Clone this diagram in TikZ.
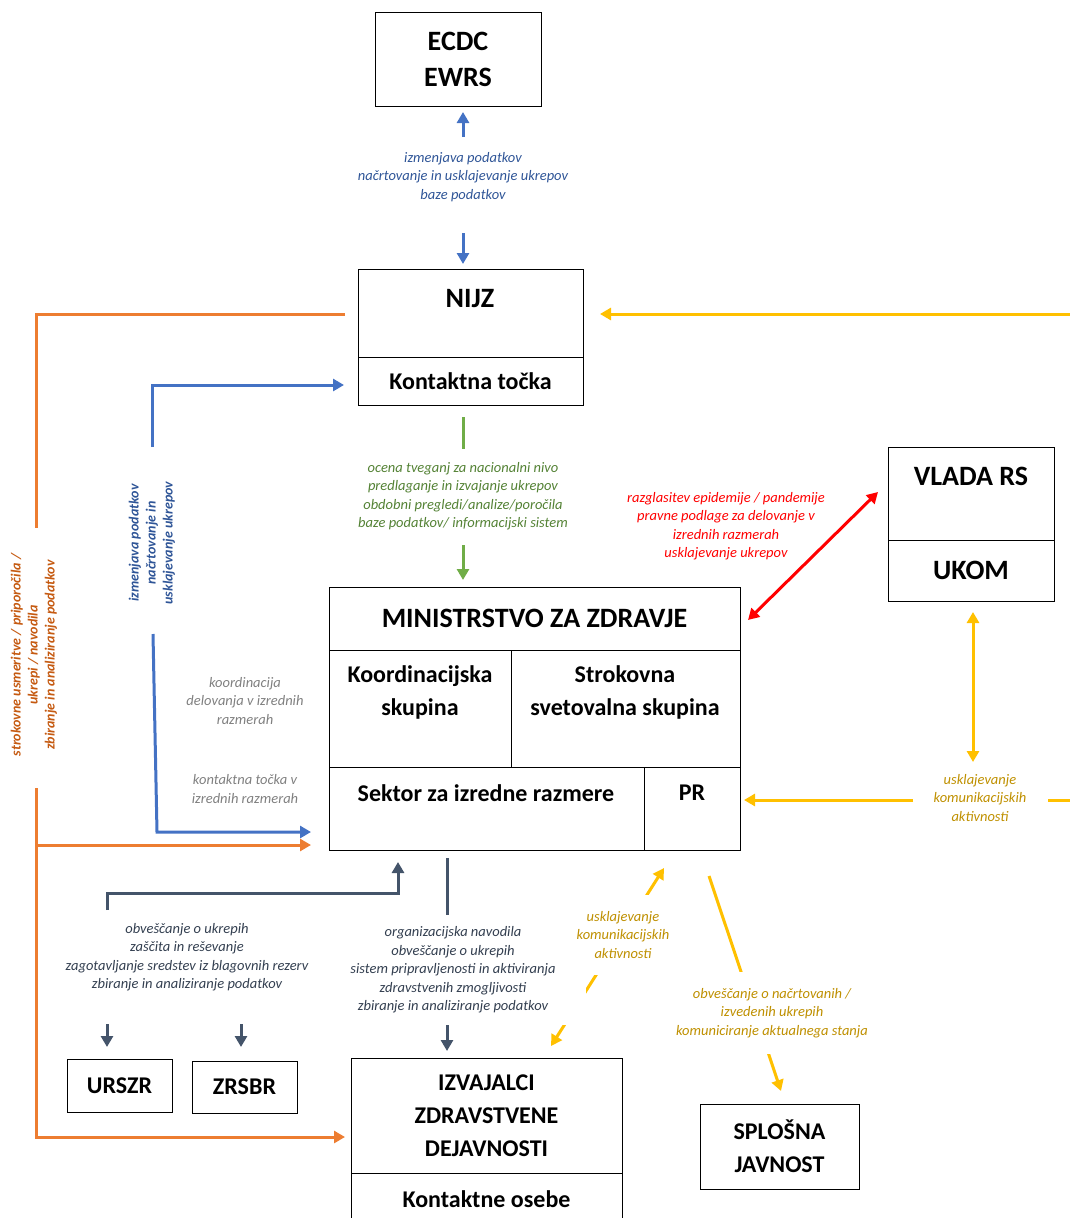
\documentclass[tikz,border=0pt]{standalone}
\usepackage{fontspec}
\setmainfont{Carlito}
\usetikzlibrary{calc,arrows.meta}

\definecolor{cblue}{HTML}{4472C4}
\definecolor{tblue}{HTML}{2F5597}
\definecolor{corange}{HTML}{ED7D31}
\definecolor{torange}{HTML}{C55A11}
\definecolor{cyellow}{HTML}{FFC000}
\definecolor{tyellow}{HTML}{BF9000}
\definecolor{cgreen}{HTML}{70AD47}
\definecolor{tgreen}{HTML}{548235}
\definecolor{cred}{HTML}{FF0000}
\definecolor{cslate}{HTML}{44546A}
\definecolor{tslate}{HTML}{333F50}
\definecolor{tgray}{HTML}{808080}

\tikzset{
  box/.style={draw,line width=1pt,inner sep=0pt,outer sep=0pt,anchor=north west},
  big/.style={font=\bfseries\fontsize{28}{36}\selectfont,align=center},
  mid/.style={font=\bfseries\fontsize{24}{33}\selectfont,align=center},
  lbl/.style={font=\itshape\fontsize{14.5}{18.5}\selectfont,align=center},
  vlbl/.style={font=\bfseries\itshape\fontsize{14}{17}\selectfont,align=center,rotate=90},
  mask/.style={fill=white,inner xsep=6pt,inner ysep=16pt},
  ln/.style={line width=3pt},
  arr/.style={line width=3pt,-{Triangle[length=11pt,width=12pt]}},
  darr/.style={line width=3pt,{Triangle[length=11pt,width=12pt]}-{Triangle[length=11pt,width=12pt]}}
}

\begin{document}
\begin{tikzpicture}[x=1pt,y=-1pt]
\useasboundingbox (0,0) rectangle (1070,1218);

% boxes
\node[box,big,minimum width=166pt,minimum height=94pt] (ecdc) at (375,12) {ECDC\\EWRS};

\node[box,minimum width=225pt,minimum height=88pt] (nijz) at (358,269) {};
\node[box,mid,minimum width=225pt,minimum height=48pt] (nijzkt) at (nijz.south west) {Kontaktna točka};
\node[big] (nijzt) at (470,299) {NIJZ};

\node[box,minimum width=166pt,minimum height=93pt] (vlada) at (888,447) {};
\node[box,big,minimum width=166pt,minimum height=61pt] (ukom) at (vlada.south west) {UKOM};
\node[big] (vladat) at (971,476) {VLADA RS};

\node[box,big,minimum width=411pt,minimum height=63pt] (mz) at (329,587) {MINISTRSTVO ZA ZDRAVJE};
\node[box,minimum width=182pt,minimum height=117pt] (koord) at (mz.south west) {};
\node[box,minimum width=229pt,minimum height=117pt] (strok) at (koord.north east) {};
\node[box,minimum width=315pt,minimum height=83pt] (sektor) at (koord.south west) {};
\node[box,minimum width=96pt,minimum height=83pt] (pr) at (sektor.north east) {};
\node[mid] (koordt) at (420,692) {Koordinacijska\\skupina};
\node[mid] (strokt) at (625,692) {Strokovna\\svetovalna skupina};
\node[mid] (sektort) at (486,793) {Sektor za izredne razmere};
\node[mid] (prt) at (692,793) {PR};

\node[box,mid,minimum width=105pt,minimum height=53pt] (urszr) at (67,1059) {URSZR};
\node[box,mid,minimum width=105pt,minimum height=52pt] (zrsbr) at (192,1061) {ZRSBR};
\node[box,mid,minimum width=271pt,minimum height=115pt] (izv) at (351,1058) {IZVAJALCI\\ZDRAVSTVENE\\DEJAVNOSTI};
\node[box,mid,minimum width=271pt,minimum height=52pt] (izvko) at (izv.south west) {Kontaktne osebe};
\node[box,mid,minimum width=159pt,minimum height=85pt] (javnost) at (700,1104) {SPLOŠNA\\JAVNOST};

% connectors
\coordinate (ecdcin) at (463,112);
\coordinate (ecdcout) at (463,137);
\coordinate (nijzout) at (463,233);
\coordinate (nijzin) at (463,264);
\draw[arr,cblue] (ecdcout) -- (ecdcin);
\draw[arr,cblue] (nijzout) -- (nijzin);

\coordinate (or1) at (345,314);
\coordinate (or2) at (36,314);
\coordinate (or3) at (36,528);
\coordinate (or4) at (36,788);
\coordinate (or5) at (36,1137);
\coordinate (or6) at (345,1137);
\coordinate (or7) at (36,845);
\coordinate (or8) at (311,845);
\draw[ln,corange] (or1) -- (or2) -- (or3);
\draw[arr,corange] (or4) -- (or5) -- (or6);
\draw[arr,corange] (or7) -- (or8);

\coordinate (bl1) at (152,447);
\coordinate (bl2) at (152,385);
\coordinate (bl3) at (344,385);
\coordinate (bl4) at (153,634);
\coordinate (bl5) at (157,832);
\coordinate (bl6) at (311,832);
\draw[arr,cblue] (bl1) -- (bl2) -- (bl3);
\draw[arr,cblue] (bl4) -- (bl5) -- (bl6);

\coordinate (gr1) at (463,417);
\coordinate (gr2) at (463,449);
\coordinate (gr3) at (463,545);
\coordinate (gr4) at (463,580);
\draw[ln,cgreen] (gr1) -- (gr2);
\draw[arr,cgreen] (gr3) -- (gr4);

\coordinate (rd1) at (748,620);
\coordinate (rd2) at (878,492);
\draw[darr,cred] (rd1) -- (rd2);

\coordinate (ye1) at (1070,314);
\coordinate (ye2) at (600,314);
\coordinate (ye3) at (973,612);
\coordinate (ye4) at (973,762);
\coordinate (ye5) at (1070,800);
\coordinate (ye6) at (1048,800);
\coordinate (ye7) at (913,800);
\coordinate (ye8) at (744,800);
\coordinate (ye9) at (551,1046);
\coordinate (ye10) at (664,868);
\coordinate (ye11) at (709,876);
\coordinate (ye12) at (781,1091);
\draw[arr,cyellow] (ye1) -- (ye2);
\draw[darr,cyellow] (ye3) -- (ye4);
\draw[ln,cyellow] (ye5) -- (ye6);
\draw[arr,cyellow] (ye7) -- (ye8);
\draw[darr,cyellow] (ye9) -- (ye10);
\draw[arr,cyellow] (ye11) -- (ye12);

\coordinate (sl1) at (107,910);
\coordinate (sl2) at (107,893);
\coordinate (sl3) at (398,893);
\coordinate (sl4) at (398,862);
\coordinate (sl7) at (107,1024);
\coordinate (sl8) at (107,1047);
\coordinate (sl9) at (241,1024);
\coordinate (sl10) at (241,1047);
\coordinate (sl11) at (447,858);
\coordinate (sl12) at (447,1051);
\draw[arr,cslate] (sl1) -- (sl2) -- (sl3) -- (sl4);
\draw[arr,cslate] (sl7) -- (sl8);
\draw[arr,cslate] (sl9) -- (sl10);
\draw[arr,cslate] (sl11) -- (sl12);

% labels
\node[lbl,text=tblue] (lecdc) at (463,177) {izmenjava podatkov\\načrtovanje in usklajevanje ukrepov\\baze podatkov};
\node[lbl,text=tgreen] (lnijz) at (463,496) {ocena tveganj za nacionalni nivo\\predlaganje in izvajanje ukrepov\\obdobni pregledi/analize/poročila\\baze podatkov/ informacijski sistem};
\node[lbl,text=cred] (lvlada) at (726,526) {razglasitev epidemije / pandemije\\pravne podlage za delovanje v\\izrednih razmerah\\usklajevanje ukrepov};
\node[vlbl,text=torange] (lorange) at (34,655) {strokovne usmeritve / priporočila /\\ukrepi / navodila\\zbiranje in analiziranje podatkov};
\node[vlbl,text=tblue] (lblue) at (152,543) {izmenjava podatkov\\načrtovanje in\\usklajevanje ukrepov};
\node[lbl,text=tgray] (lkoord) at (245,701) {koordinacija\\delovanja v izrednih\\razmerah};
\node[lbl,text=tgray] (lkt) at (245,789) {kontaktna točka v\\izrednih razmerah};
\node[lbl,text=tyellow] (lukom) at (980,798) {usklajevanje\\komunikacijskih\\aktivnosti};
\node[lbl,text=tslate] (lurszr) at (187,957) {obveščanje o ukrepih\\zaščita in reševanje\\zagotavljanje sredstev iz blagovnih rezerv\\zbiranje in analiziranje podatkov};
\node[lbl,text=tslate,fill=white,inner xsep=30pt,inner ysep=12pt] (lizv) at (453,970) {organizacijska navodila\\obveščanje o ukrepih\\sistem pripravljenosti in aktiviranja\\zdravstvenih zmogljivosti\\zbiranje in analiziranje podatkov};
\node[lbl,mask,text=tyellow] (lpr) at (623,935) {usklajevanje\\komunikacijskih\\aktivnosti};
\node[lbl,mask,text=tyellow] (ljav) at (772,1013) {obveščanje o načrtovanih /\\izvedenih ukrepih\\komuniciranje aktualnega stanja};
\end{tikzpicture}
\end{document}
